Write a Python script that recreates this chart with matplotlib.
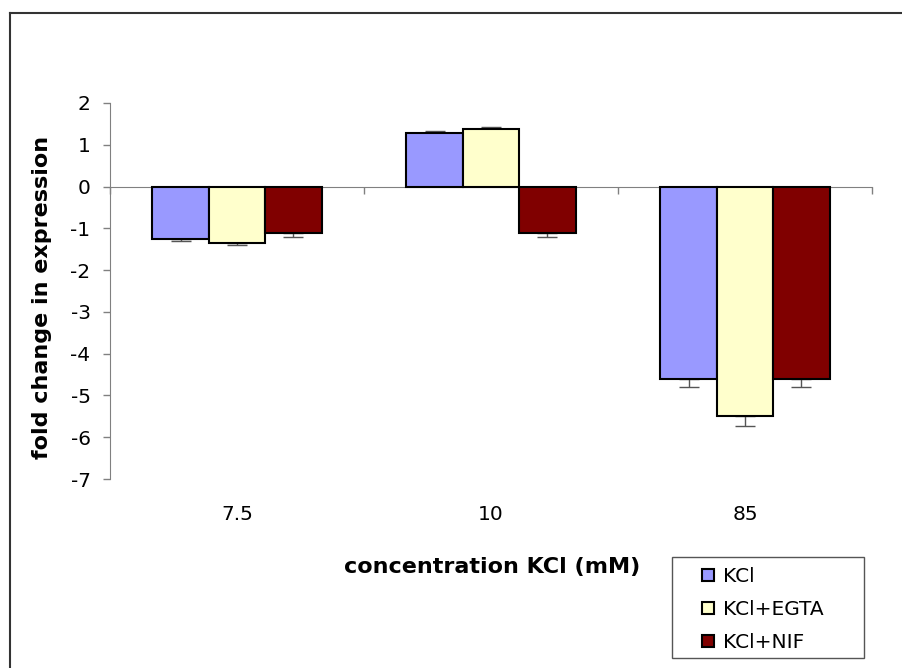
import matplotlib
matplotlib.use("Agg")
import matplotlib.pyplot as plt
import matplotlib.transforms as mtransforms
from matplotlib.patches import Patch, Rectangle
from matplotlib.lines import Line2D
import numpy as np

categories = ["7.5", "10", "85"]
series_names = ["KCl", "KCl+EGTA", "KCl+NIF"]
kcl = [-1.25, 1.28, -4.6]
kcl_egta = [-1.35, 1.38, -5.5]
kcl_nif = [-1.12, -1.12, -4.6]
kcl_err = [0.05, 0.06, 0.2]
kcl_egta_err = [0.05, 0.05, 0.24]
kcl_nif_err = [0.08, 0.09, 0.2]
colors = ["#9999FF", "#FFFFCC", "#800000"]
yticks = [2, 1, 0, -1, -2, -3, -4, -5, -6, -7]

plt.rcParams["font.family"] = ["DejaVu Sans"]
FS = 14.5
fig = plt.figure(figsize=(9.03, 6.68), dpi=100)
W, H = 903, 668
ax = fig.add_axes([110 / W, (H - 479) / H, (872 - 110) / W, (479 - 103) / H])

x = np.arange(len(categories))
bw = 1 / 4.5
values = [kcl, kcl_egta, kcl_nif]
errors = [kcl_err, kcl_egta_err, kcl_nif_err]
for k, (vals, errs, col) in enumerate(zip(values, errors, colors)):
    pos = x + (k - 1) * bw
    ax.bar(pos, vals, width=bw, color=col, edgecolor="black", linewidth=1.5, zorder=3)
    vals = np.array(vals)
    errs = np.array(errs)
    lower = np.where(vals < 0, errs, 0)
    upper = np.where(vals > 0, errs, 0)
    ax.errorbar(pos, vals, yerr=[lower, upper], fmt="none", ecolor="#555555",
                elinewidth=1.0, capsize=7, capthick=1.0, zorder=2)

ax.set_xlim(-0.5, 2.5)
ax.set_ylim(-7, 2)
ax.set_yticks(yticks)
ax.set_yticklabels([str(t) for t in yticks])
ax.tick_params(axis="y", direction="out", length=5, width=1, color="#808080",
               labelsize=FS, pad=9)

# category axis runs along zero with boundary ticks pointing down
ax.spines["bottom"].set_position(("data", 0))
ax.spines["bottom"].set_color("#808080")
ax.spines["left"].set_color("#808080")
ax.spines["top"].set_visible(False)
ax.spines["right"].set_visible(False)
ax.set_xticks([-0.5, 0.5, 1.5, 2.5])
ax.set_xticklabels([])
ax.tick_params(axis="x", direction="out", length=5, width=1, color="#808080")

trans = mtransforms.blended_transform_factory(ax.transData, ax.transAxes)
for xi, lab in zip(x, categories):
    ax.text(xi, -0.095, lab, transform=trans, ha="center", va="center", fontsize=FS)

fig.text(42 / W, 1 - 297 / H, "fold change in expression", rotation=90,
         ha="center", va="center", fontsize=16, fontweight="bold")
fig.text(492 / W, 1 - 567 / H, "concentration KCl (mM)", ha="center",
         va="center", fontsize=16, fontweight="bold")

# legend box
fig.add_artist(Rectangle((672 / W, 1 - 658 / H), (864 - 672) / W, (658 - 557) / H,
                         transform=fig.transFigure, facecolor="white",
                         edgecolor="#555555", linewidth=1.0, zorder=4))
handles = [Patch(facecolor=c, edgecolor="black", linewidth=1.5) for c in colors]
leg = fig.legend(handles, series_names, loc="upper left",
                 bbox_to_anchor=(702 / W, 1 - 567 / H), fontsize=FS,
                 handlelength=0.6, handleheight=0.6, handletextpad=0.45,
                 labelspacing=0.7, borderpad=0, borderaxespad=0,
                 frameon=False)
leg.set_zorder(5)

# chart-area border (left and top edges)
fig.add_artist(Line2D([10 / W, 10 / W], [0, 1 - 13 / H], transform=fig.transFigure,
                      color="#333333", linewidth=1.5))
fig.add_artist(Line2D([10 / W, 1], [1 - 13 / H, 1 - 13 / H], transform=fig.transFigure,
                      color="#333333", linewidth=1.5))

fig.savefig("out.png", dpi=100)
